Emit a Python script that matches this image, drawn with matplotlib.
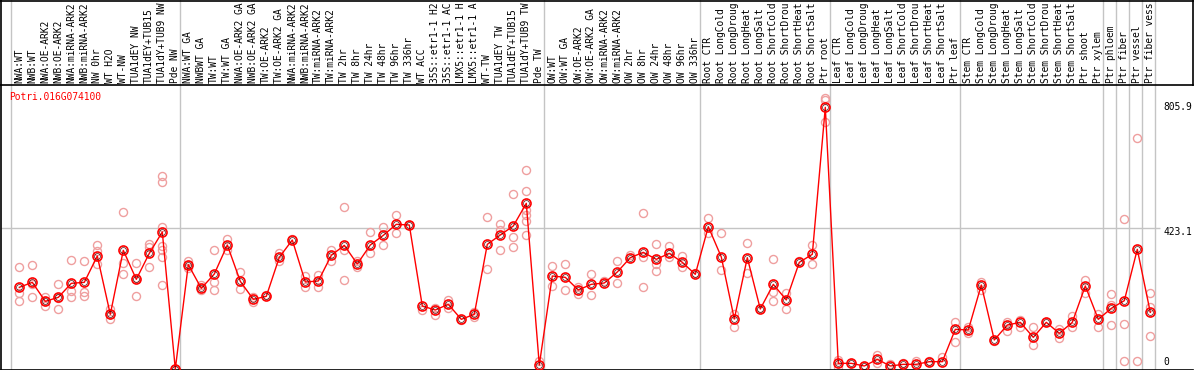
import numpy as np
import matplotlib
matplotlib.use("Agg")
import matplotlib.pyplot as plt

gene = "Potri.016G074100"

labels = [
    "NWA:WT", "NWB:WT", "NWA:OE-ARK2", "NWB:OE-ARK2", "NWA:miRNA-ARK2", "NWB:miRNA-ARK2",
    "NW 0hr", "WT H2O", "WT-NW", "TUA1dEY NW", "TUA1dEY+TUB15", "TUA1dY+TUB9 NW", "Pde NW",
    "NWA:WT GA", "NWBWT GA", "TW:WT", "TW:WT GA", "NWA:OE-ARK2 GA", "NWB:OE-ARK2 GA",
    "TW:OE-ARK2", "TW:OE-ARK2 GA", "NWA:miRNA-ARK2", "NWB:miRNA-ARK2", "TW:miRNA-ARK2",
    "TW:miRNA-ARK2", "TW 2hr", "TW 8hr", "TW 24hr", "TW 48hr", "TW 96hr", "TW 336hr",
    "WT ACC", "35S::etr1-1 H2", "35S::etr1-1 AC", "LMX5::etr1-1 H", "LMX5::etr1-1 A",
    "WT-TW", "TUA1dEY TW", "TUA1dEY+TUB15", "TUA1dY+TUB9 TW", "Pde TW",
    "OW:WT", "OW:WT GA", "OW:OE-ARK2", "OW:OE-ARK2 GA", "OW:miRNA-ARK2", "OW:miRNA-ARK2",
    "OW 2hr", "OW 8hr", "OW 24hr", "OW 48hr", "OW 96hr", "OW 336hr",
    "Root CTR", "Root LongCold", "Root LongDroug", "Root LongHeat", "Root LongSalt",
    "Root ShortCold", "Root ShortDrou", "Root ShortHeat", "Root ShortSalt", "Ptr root",
    "Leaf CTR", "Leaf LongCold", "Leaf LongDroug", "Leaf LongHeat", "Leaf LongSalt",
    "Leaf ShortCold", "Leaf ShortDrou", "Leaf ShortHeat", "Leaf ShortSalt", "Ptr leaf",
    "Stem CTR", "Stem LongCold", "Stem LongDroug", "Stem LongHeat", "Stem LongSalt",
    "Stem ShortCold", "Stem ShortDrou", "Stem ShortHeat", "Stem ShortSalt",
    "Ptr shoot", "Ptr xylem", "Ptr phloem", "Ptr fiber", "Ptr vessel", "Ptr fiber vess",
]

means = [
    245, 260, 203, 215, 257, 260, 339, 164, 356, 269, 347, 411, 0,
    313, 242, 285, 372, 263, 209, 218, 335, 387, 261, 264, 341, 371, 315, 372, 401, 434, 432,
    189, 177, 194, 149, 164, 374, 402, 429, 497, 12,
    279, 275, 237, 254, 258, 291, 334, 350, 329, 347, 320, 284,
    427, 336, 150, 334, 180, 254, 207, 320, 344, 785,
    17, 17, 9, 29, 9, 14, 14, 22, 22, 119,
    117, 252, 87, 132, 140, 95, 140, 107, 140,
    249, 149, 182, 205, 359, 170,
]

reps = [
    [305, 229, 203], [312, 215, 255], [217, 189, 203], [254, 179, 212], [326, 234, 215],
    [323, 231, 220], [372, 354, 315], [180, 151, 164], [471, 317, 284], [317, 218, 272],
    [375, 365, 306], [579, 560, 425, 370, 357, 335, 251], [0, 0, 0],
    [325, 302, 313], [252, 237], [357, 260, 236], [390, 357], [291, 239], [217, 201],
    [221], [347, 325], [390], [280, 246], [282, 246], [357, 324], [486, 357, 267],
    [325, 307], [410, 349], [426, 372], [461, 409], [432],
    [177], [182, 161], [207, 182], [147], [172, 157], [456, 300], [434, 417, 357],
    [524, 396, 366], [596, 534, 477, 462, 444, 401], [24],
    [308, 248], [314, 236], [247, 225], [284, 222], [265], [323, 257], [342],
    [467, 337, 246], [375, 315, 295], [370, 337], [340, 306], [289],
    [452, 407], [407, 297], [164, 127], [377, 289], [182], [329, 232, 204], [227, 179],
    [325], [372, 314], [812, 807, 740],
    [27, 7], [17], [9], [42, 17], [14], [17], [25], [24], [37], [140, 82],
    [125, 107], [262, 237], [84], [142, 115], [147, 127], [125, 72], [142], [120, 92],
    [159, 127],
    [267, 227], [165, 127], [225, 192, 132], [449, 134, 24], [692, 24], [227, 187, 99],
]

# group separators (between samples)
vlines = [-0.64, 12.36, 40.36, 52.36, 62.36, 72.36, 83.36, 84.36, 85.36, 86.36, 87.36]
ymax_label = "805.9"
ymid_label = "423.1"
ymid = 423.1

W, H = 1194, 370
MONO = "DejaVu Sans Mono"
FS = 6.9


def main():
    fig = plt.figure(figsize=(W / 100, H / 100), dpi=100)
    # axes placed in pixel units
    left, right, top, bottom = 1, 1193, 84.5, 369.5
    ax = fig.add_axes([left / W, 1 - bottom / H, (right - left) / W, (bottom - top) / H])
    x = np.arange(len(labels))
    x0, dx = 19.3, 13.0
    ax.set_xlim((left - x0) / dx, (right - x0) / dx)
    ax.set_ylim(-1.5, (369 - top) * 3)

    gray = "#c4c4c4"
    frac_top = (bottom - 0) / (bottom - top)
    for v in vlines:
        ax.axvline(v, ymin=0, ymax=frac_top, color=gray, lw=1, clip_on=False, zorder=1)
    ax.hlines(ymid, ax.get_xlim()[0], (1160 - x0) / dx, color=gray, lw=1, zorder=1)

    for i, r in enumerate(reps):
        ax.plot([x[i]] * len(r), r, ls="none", marker="o", ms=5.8, mfc="none",
                mec="#ef9f9f", mew=1.0, clip_on=False, zorder=2)

    ax.plot(x, means, color="red", lw=1, zorder=3, clip_on=False)
    ax.plot(x, means, ls="none", marker="o", ms=6.5, mfc="none", mec="red", mew=1.2,
            zorder=4, clip_on=False)
    ax.plot(x, means, ls="none", marker="o", ms=4.2, mfc="none", mec="#400000", mew=0.45,
            zorder=5, clip_on=False)

    ax.set_xticks([])
    ax.set_yticks([])
    ax.spines["right"].set_visible(False)
    for s in ["left", "bottom", "top"]:
        ax.spines[s].set_linewidth(1.2)
        ax.spines[s].set_color("black")

    # rotated sample labels above the plot
    for i, lab in enumerate(labels):
        px = x0 + i * dx
        fig.text(px / W, 1 - 83 / H, lab, rotation=90, ha="center", va="bottom",
                 fontsize=FS, family=MONO, color="black")

    fig.text(9 / W, 1 - 97 / H, gene, ha="left", va="center", fontsize=FS,
             family=MONO, color="red")
    fig.text(1163 / W, 1 - 106.5 / H, ymax_label, ha="left", va="center", fontsize=FS, family=MONO)
    fig.text(1163 / W, 1 - 232 / H, ymid_label, ha="left", va="center", fontsize=FS, family=MONO)
    fig.text(1163 / W, 1 - 362 / H, "0", ha="left", va="center", fontsize=FS, family=MONO)

    # outer frame of the label strip
    fig.add_artist(plt.Line2D([0, 1], [1 - 0.5 / H, 1 - 0.5 / H], color="black", lw=1.2))
    fig.add_artist(plt.Line2D([1193 / W, 1193 / W], [1 - 84.5 / H, 1], color="black", lw=1.2))
    fig.add_artist(plt.Line2D([left / W, left / W], [1 - 84.5 / H, 1], color="black", lw=1.2))

    fig.savefig("out.png", dpi=100)
    plt.close(fig)


if __name__ == '__main__':
    main()
